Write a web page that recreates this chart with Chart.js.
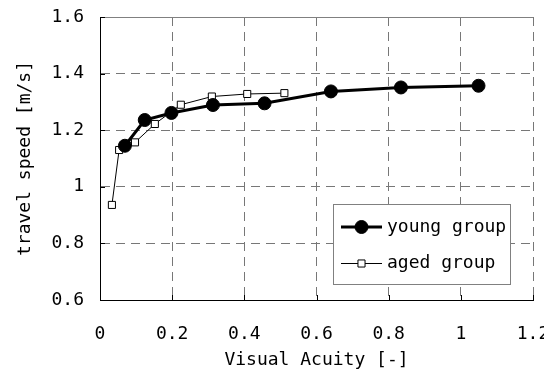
<!DOCTYPE html>
<html>
<head>
<meta charset="utf-8">
<script src="https://cdn.jsdelivr.net/npm/chart.js@4/dist/chart.umd.min.js"></script>
<style>
    html, body { margin: 0; padding: 0; background: #fff; overflow: hidden; }
    #wrap { position: relative; width: 560px; height: 376px; }
</style>
</head>
<body>
<div id="wrap"><canvas id="speedChart"></canvas></div>
<script>
// visual acuity vs. travel speed
const youngAcuity = [0.069, 0.124, 0.198, 0.313, 0.456, 0.640, 0.834, 1.049];
const youngSpeed  = [1.145, 1.236, 1.261, 1.289, 1.295, 1.337, 1.351, 1.357];
const agedAcuity  = [0.033, 0.053, 0.097, 0.152, 0.224, 0.310, 0.408, 0.511];
const agedSpeed   = [0.936, 1.130, 1.157, 1.222, 1.290, 1.319, 1.328, 1.331];
const seriesNames = ['young group', 'aged group'];
const xTicks = [0, 0.2, 0.4, 0.6, 0.8, 1, 1.2];
const yTicks = [0.6, 0.8, 1, 1.2, 1.4, 1.6];

const FONT = { family: '"DejaVu Sans Mono", monospace', size: 18 };

const toPoints = (xs, ys) => xs.map((x, i) => ({ x: x, y: ys[i] }));

// inward tick marks, solid top frame and the boxed legend
const framePlugin = {
    id: 'frame',
    beforeDatasetsDraw(chart) {
        const { ctx, chartArea: a, scales } = chart;
        ctx.save();
        ctx.strokeStyle = '#808080';
        ctx.lineWidth = 1;
        ctx.beginPath();
        ctx.moveTo(a.left, a.top + 0.5);
        ctx.lineTo(a.right, a.top + 0.5);
        ctx.stroke();

        ctx.strokeStyle = '#000';
        ctx.beginPath();
        xTicks.forEach(v => {
            const px = Math.round(scales.x.getPixelForValue(v)) + 0.5;
            ctx.moveTo(px, a.bottom);
            ctx.lineTo(px, a.bottom - 5);
        });
        yTicks.forEach(v => {
            const py = Math.round(scales.y.getPixelForValue(v)) + 0.5;
            ctx.moveTo(a.left, py);
            ctx.lineTo(a.left + 5, py);
        });
        ctx.stroke();
        ctx.restore();
    },
    afterDraw(chart) {
        const { ctx, chartArea: a } = chart;
        const right = a.right - 23, bottom = a.bottom - 16;
        const w = 177, h = 80;
        const left = right - w, top = bottom - h;
        ctx.save();
        ctx.fillStyle = '#fff';
        ctx.fillRect(left, top, w, h);
        ctx.strokeStyle = '#808080';
        ctx.lineWidth = 1;
        ctx.strokeRect(Math.round(left) + 0.5, Math.round(top) + 0.5, w, h);

        chart.data.datasets.forEach((ds, i) => {
            const cy = top + 23 + i * 36.5;
            const x1 = left + 8, x2 = left + 49, mx = (x1 + x2) / 2;
            ctx.strokeStyle = ds.borderColor;
            ctx.lineWidth = ds.borderWidth;
            ctx.beginPath();
            ctx.moveTo(x1, cy);
            ctx.lineTo(x2, cy);
            ctx.stroke();
            ctx.fillStyle = ds.pointBackgroundColor;
            ctx.strokeStyle = ds.pointBorderColor;
            ctx.lineWidth = ds.pointBorderWidth;
            Chart.helpers.drawPoint(ctx, {
                pointStyle: ds.pointStyle,
                radius: ds.pointRadius,
                rotation: 0,
                borderWidth: ds.pointBorderWidth
            }, mx, cy);

            ctx.fillStyle = '#000';
            ctx.font = FONT.size + 'px ' + FONT.family;
            ctx.textBaseline = 'middle';
            ctx.textAlign = 'left';
            ctx.fillText(ds.label, x2 + 5, cy);
        });
        ctx.restore();
    }
};

const ctx = document.getElementById('speedChart').getContext('2d');
new Chart(ctx, {
    type: 'scatter',
    data: {
        datasets: [{
            label: seriesNames[0],
            data: toPoints(youngAcuity, youngSpeed),
            showLine: true,
            borderColor: '#000',
            borderWidth: 3,
            pointStyle: 'circle',
            pointRadius: 6.5,
            pointBackgroundColor: '#000',
            pointBorderColor: '#000',
            pointBorderWidth: 1
        }, {
            label: seriesNames[1],
            data: toPoints(agedAcuity, agedSpeed),
            showLine: true,
            borderColor: '#000',
            borderWidth: 1,
            pointStyle: 'rect',
            pointRadius: 5,
            pointBackgroundColor: '#fff',
            pointBorderColor: '#000',
            pointBorderWidth: 1
        }]
    },
    options: {
        responsive: true,
        maintainAspectRatio: false,
        animation: false,
        layout: { padding: { top: 17, right: 27, left: 0, bottom: 0 } },
        plugins: {
            legend: { display: false },
            tooltip: { enabled: false }
        },
        scales: {
            x: {
                type: 'linear',
                min: 0,
                max: 1.2,
                afterFit: scale => {
                    scale.height = 76;
                    scale.paddingLeft = 0;
                    scale.paddingRight = 0;
                },
                afterBuildTicks: scale => { scale.ticks = xTicks.map(v => ({ value: v })); },
                ticks: {
                    color: '#000',
                    font: FONT,
                    padding: 24,
                    maxRotation: 0,
                    callback: v => String(v)
                },
                grid: { color: '#777', lineWidth: 1, drawTicks: false },
                border: { color: '#000', width: 1, dash: [9, 6] },
                title: {
                    display: true,
                    text: 'Visual Acuity [-]',
                    color: '#000',
                    font: FONT,
                    padding: { top: 0, bottom: 5 }
                }
            },
            y: {
                type: 'linear',
                min: 0.6,
                max: 1.6,
                afterFit: scale => {
                    scale.width = 100;
                    scale.paddingTop = 0;
                    scale.paddingBottom = 0;
                },
                afterBuildTicks: scale => { scale.ticks = yTicks.map(v => ({ value: v })); },
                ticks: {
                    color: '#000',
                    font: FONT,
                    padding: 16,
                    callback: v => String(v)
                },
                grid: { color: '#777', lineWidth: 1, drawTicks: false },
                border: { color: '#000', width: 1, dash: [9, 6] },
                title: {
                    display: true,
                    text: 'travel speed [m/s]',
                    color: '#000',
                    font: FONT,
                    padding: { top: 15, bottom: 0 }
                }
            }
        }
    },
    plugins: [framePlugin]
});
</script>
</body>
</html>
